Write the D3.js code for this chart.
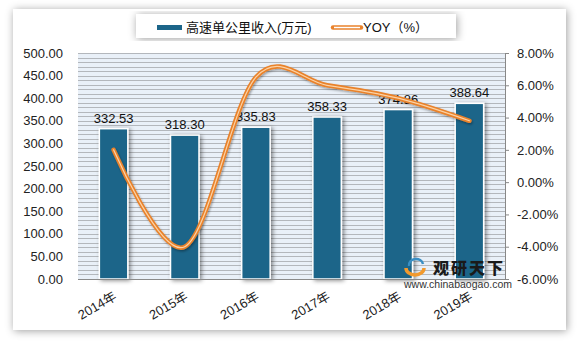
<!DOCTYPE html>
<html><head><meta charset="utf-8">
<script src="https://cdn.jsdelivr.net/npm/d3@7"></script>
<style>html,body{margin:0;padding:0;background:#fff;}svg{display:block;}</style>
</head><body>
<svg id="chart" width="579" height="342"></svg>
<script>
const categories = ["2014年","2015年","2016年","2017年","2018年","2019年"];
const revenue = [332.53, 318.30, 335.83, 358.33, 374.86, 388.64];
const yoy = [2.0, -4.0, 6.5, 6.0, 5.2, 3.8];
const leftTicks = [0,50,100,150,200,250,300,350,400,450,500];
const rightTicks = [-6,-4,-2,0,2,4,6,8];
const seriesNames = ["高速单公里收入(万元)", "YOY（%）"];

const svg = d3.select("#chart");
const m = {left:78, right:505, top:53, bottom:279};
const latin = "'Liberation Sans', Arial, sans-serif";
const cjk = "'Liberation Sans', 'Noto Sans CJK SC', sans-serif";

const defs = svg.append("defs");
const fp = defs.append("filter").attr("id","panelShadow").attr("x","-10%").attr("y","-10%").attr("width","120%").attr("height","120%");
fp.append("feDropShadow").attr("dx",1).attr("dy",1).attr("stdDeviation",4).attr("flood-color","#000").attr("flood-opacity",0.38);
const fb = defs.append("filter").attr("id","barShadow").attr("x","-30%").attr("y","-10%").attr("width","160%").attr("height","130%");
fb.append("feDropShadow").attr("dx",2).attr("dy",1).attr("stdDeviation",2).attr("flood-color","#000").attr("flood-opacity",0.45);
const fl = defs.append("filter").attr("id","lineShadow").attr("x","-10%").attr("y","-20%").attr("width","120%").attr("height","140%");
fl.append("feDropShadow").attr("dx",1).attr("dy",1.5).attr("stdDeviation",1).attr("flood-color","#000").attr("flood-opacity",0.35);

// panel
svg.append("rect").attr("x",13).attr("y",9).attr("width",553).attr("height",321)
  .attr("fill","#fff").attr("filter","url(#panelShadow)");

const x = d3.scaleBand().domain(categories).range([m.left, m.right]).paddingInner(0.6).paddingOuter(0.3);
const yL = d3.scaleLinear().domain([0,500]).range([m.bottom, m.top]);
const yR = d3.scaleLinear().domain([-6,8]).range([m.bottom, m.top]);

// plot background
svg.append("rect").attr("x",m.left).attr("y",m.top).attr("width",m.right-m.left).attr("height",m.bottom-m.top).attr("fill","#e9f0f8");
const minor = d3.range(10, 501, 10);
svg.append("g").selectAll("line").data(minor).join("line")
  .attr("x1",m.left).attr("x2",m.right)
  .attr("y1",d=>Math.round(yL(d))+0.5).attr("y2",d=>Math.round(yL(d))+0.5)
  .attr("stroke","#b3b7bc").attr("stroke-width",1);

// left axis labels
const gL = svg.append("g").attr("transform",`translate(${m.left},0)`)
  .call(d3.axisLeft(yL).tickValues(leftTicks).tickFormat(d3.format(".2f")).tickSize(0).tickPadding(15));
gL.select(".domain").remove();
gL.selectAll("text").attr("font-family",latin).attr("font-size",13).attr("fill","#222");

// right axis
const gR = svg.append("g").attr("transform",`translate(${m.right},0)`)
  .call(d3.axisRight(yR).tickValues(rightTicks).tickFormat(d=>d.toFixed(2)+"%").tickSize(4).tickPadding(8));
gR.select(".domain").attr("stroke","#888");
gR.selectAll(".tick line").attr("stroke","#888");
gR.selectAll("text").attr("font-family",latin).attr("font-size",13).attr("fill","#222");

// bars
svg.append("g").selectAll("rect").data(revenue).join("rect")
  .attr("x",(d,i)=>x(categories[i])).attr("width",x.bandwidth())
  .attr("y",d=>yL(d)).attr("height",d=>yL(0)-yL(d))
  .attr("fill","#1c6589").attr("stroke","#fff").attr("stroke-width",1.5)
  .attr("filter","url(#barShadow)");

// baseline
svg.append("line").attr("x1",m.left).attr("x2",m.right).attr("y1",m.bottom+0.5).attr("y2",m.bottom+0.5)
  .attr("stroke","#8a8a8a").attr("stroke-width",1);

// bar labels
svg.append("g").selectAll("text").data(revenue).join("text")
  .attr("x",(d,i)=>x(categories[i])+x.bandwidth()/2).attr("y",d=>yL(d)-6)
  .attr("text-anchor","middle").attr("font-family",latin).attr("font-size",13).attr("fill","#111")
  .text(d=>d.toFixed(2));

// watermark
const wm = svg.append("g");
wm.append("path").attr("d","M406,268 a9,7 0 1,0 18,0").attr("fill","none").attr("stroke","#f29a2e").attr("stroke-width",3.5);
wm.append("path").attr("d","M409,266 a7,6 0 1,1 14,-2").attr("fill","none").attr("stroke","#3a8fc4").attr("stroke-width",2.5);
wm.append("text").attr("x",433).attr("y",274).attr("font-family","'Noto Sans CJK SC', sans-serif").attr("font-weight",900)
  .attr("font-size",16).attr("letter-spacing",2).attr("fill","#1a1a1a").text("观研天下");
wm.append("text").attr("x",404).attr("y",288).attr("font-family",latin).attr("font-size",10.5).attr("fill","#333").text("www.chinabaogao.com");

// line
const pts = yoy.map((v,i)=>[x(categories[i])+x.bandwidth()/2, yR(v)]);
const lineGen = d3.line().curve(d3.curveCardinal.tension(0));
svg.append("path").attr("d",lineGen(pts)).attr("fill","none").attr("stroke","#e9822c").attr("stroke-width",4.5)
  .attr("stroke-linecap","round").attr("filter","url(#lineShadow)");
svg.append("path").attr("d",lineGen(pts)).attr("fill","none").attr("stroke","#fbd2a6").attr("stroke-width",1.2)
  .attr("stroke-linecap","round");

// x labels
svg.append("g").selectAll("text").data(categories).join("text")
  .attr("transform",d=>`translate(${x(d)+x.bandwidth()/2+4},${m.bottom+20}) rotate(-30)`)
  .attr("text-anchor","end").attr("font-family",cjk).attr("font-size",13).attr("fill","#222")
  .text(d=>d);

// legend
const lg = svg.append("g");
lg.append("rect").attr("x",136).attr("y",14).attr("width",320).attr("height",24).attr("fill","#fff").attr("filter","url(#panelShadow)");
lg.append("rect").attr("x",157).attr("y",25).attr("width",25).attr("height",5).attr("fill","#1c6589");
lg.append("text").attr("x",186).attr("y",32).attr("font-family",cjk).attr("font-size",13).attr("fill","#111").text(seriesNames[0]);
lg.append("line").attr("x1",333).attr("x2",361).attr("y1",27.5).attr("y2",27.5).attr("stroke","#e9822c").attr("stroke-width",4.5).attr("stroke-linecap","round");
lg.append("line").attr("x1",334).attr("x2",360).attr("y1",27.5).attr("y2",27.5).attr("stroke","#fff").attr("stroke-width",1.5);
lg.append("text").attr("x",363).attr("y",32).attr("font-family",cjk).attr("font-size",13).attr("fill","#111").text(seriesNames[1]);
</script>
</body></html>
